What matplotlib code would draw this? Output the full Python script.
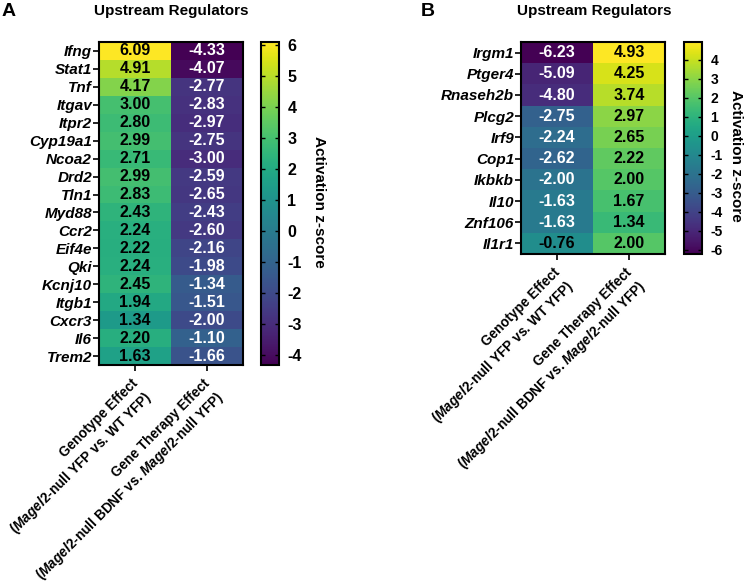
import numpy as np
import matplotlib
matplotlib.use("Agg")
import matplotlib.pyplot as plt
from matplotlib.colors import Normalize

plt.rcParams["font.family"] = ["Liberation Sans", "DejaVu Sans"]
plt.rcParams["font.weight"] = "bold"
plt.rcParams["mathtext.fontset"] = "custom"
plt.rcParams["mathtext.rm"] = "Liberation Sans:bold"
plt.rcParams["mathtext.it"] = "Liberation Sans:italic:bold"
plt.rcParams["mathtext.bf"] = "Liberation Sans:bold"

# ---------- DATA ----------
genes_a = ["Ifng", "Stat1", "Tnf", "Itgav", "Itpr2", "Cyp19a1", "Ncoa2", "Drd2",
           "Tln1", "Myd88", "Ccr2", "Eif4e", "Qki", "Kcnj10", "Itgb1", "Cxcr3",
           "Il6", "Trem2"]
genotype_a = [6.09, 4.91, 4.17, 3.00, 2.80, 2.99, 2.71, 2.99, 2.83, 2.43, 2.24,
              2.22, 2.24, 2.45, 1.94, 1.34, 2.20, 1.63]
therapy_a = [-4.33, -4.07, -2.77, -2.83, -2.97, -2.75, -3.00, -2.59, -2.65, -2.43,
             -2.60, -2.16, -1.98, -1.34, -1.51, -2.00, -1.10, -1.66]

genes_b = ["Irgm1", "Ptger4", "Rnaseh2b", "Plcg2", "Irf9", "Cop1", "Ikbkb", "Il10",
           "Znf106", "Il1r1"]
genotype_b = [-6.23, -5.09, -4.80, -2.75, -2.24, -2.62, -2.00, -1.63, -1.63, -0.76]
therapy_b = [4.93, 4.25, 3.74, 2.97, 2.65, 2.22, 2.00, 1.67, 1.34, 2.00]

col_titles = ["Genotype Effect", "Gene Therapy Effect"]
col_subtitles = ["($\\mathit{Magel2}$-null YFP vs. WT YFP)",
                 "($\\mathit{Magel2}$-null BDNF vs. $\\mathit{Magel2}$-null YFP)"]
cbar_ticks_a = list(range(-4, 7))
cbar_ticks_b = list(range(-6, 5))

W, H = 744, 585
fig = plt.figure(figsize=(W / 100, H / 100), dpi=100)


def px(x0, y0, x1, y1):
    # pixel box (top-left origin) -> figure fraction rect
    return [x0 / W, 1 - y1 / H, (x1 - x0) / W, (y1 - y0) / H]


def panel(hm_box, cb_box, genes, col1, col2, ticks, cb_fs, label_pos, title_x, letter, letter_x):
    data = np.column_stack([col1, col2])
    vmin, vmax = data.min(), data.max()
    norm = Normalize(vmin, vmax)
    ax = fig.add_axes(px(*hm_box))
    im = ax.imshow(data, cmap="viridis", norm=norm, aspect="auto", interpolation="nearest")
    for i in range(data.shape[0]):
        for j in range(2):
            v = data[i, j]
            c = "black" if norm(v) > 0.45 else "white"
            ax.text(j, i, f"{v:.2f}", ha="center", va="center", fontsize=11.5,
                    fontweight="bold", color=c)
    ax.set_yticks(range(len(genes)))
    ax.set_yticklabels(genes, fontsize=11, fontweight="bold", fontstyle="italic")
    ax.set_xticks([0, 1])
    ax.set_xticklabels([])
    ax.tick_params(axis="y", length=4, width=1.2, pad=1)
    ax.tick_params(axis="x", length=4, width=1.2)
    for s in ax.spines.values():
        s.set_linewidth(1.5)

    # rotated two-line column labels, right ends aligned under each tick
    d = 8.6
    for j in range(2):
        ax.annotate(col_titles[j], xy=(j, 0), xycoords=("data", "axes fraction"),
                    xytext=(-3, -8), textcoords="offset points", fontsize=9.8,
                    fontweight="bold", rotation=45, rotation_mode="anchor",
                    ha="right", va="top")
        ax.annotate(col_subtitles[j], xy=(j, 0), xycoords=("data", "axes fraction"),
                    xytext=(-3 + d, -8 - d), textcoords="offset points", fontsize=9.8,
                    fontweight="bold", rotation=45, rotation_mode="anchor",
                    ha="right", va="top")

    cax = fig.add_axes(px(*cb_box))
    cb = fig.colorbar(im, cax=cax, ticks=ticks)
    cb.outline.set_linewidth(1.5)
    cax.tick_params(axis="y", which="major", left=True, right=True, direction="in",
                    length=3, width=1, labelsize=cb_fs, pad=6)
    cax.set_yticklabels([str(t) for t in ticks], fontweight="bold")
    fig.text(label_pos[0] / W, 1 - label_pos[1] / H, "Activation z-score", rotation=270,
             ha="center", va="center", fontsize=11, fontweight="bold")
    fig.text(title_x / W, 1 - 11 / H, "Upstream Regulators", ha="center", va="center",
             fontsize=11, fontweight="bold")
    fig.text(letter_x / W, 1 - 11 / H, letter, ha="left", va="center",
             fontsize=14, fontweight="bold")


panel((99, 42, 243, 365), (261, 42, 279, 365), genes_a, genotype_a, therapy_a,
      cbar_ticks_a, 11.5, (319, 202), 171, "A", 2)
panel((521, 42, 665, 254), (684, 42, 702, 254), genes_b, genotype_b, therapy_b,
      cbar_ticks_b, 10, (736, 156), 594, "B", 421)

fig.savefig("out.png", dpi=100)
